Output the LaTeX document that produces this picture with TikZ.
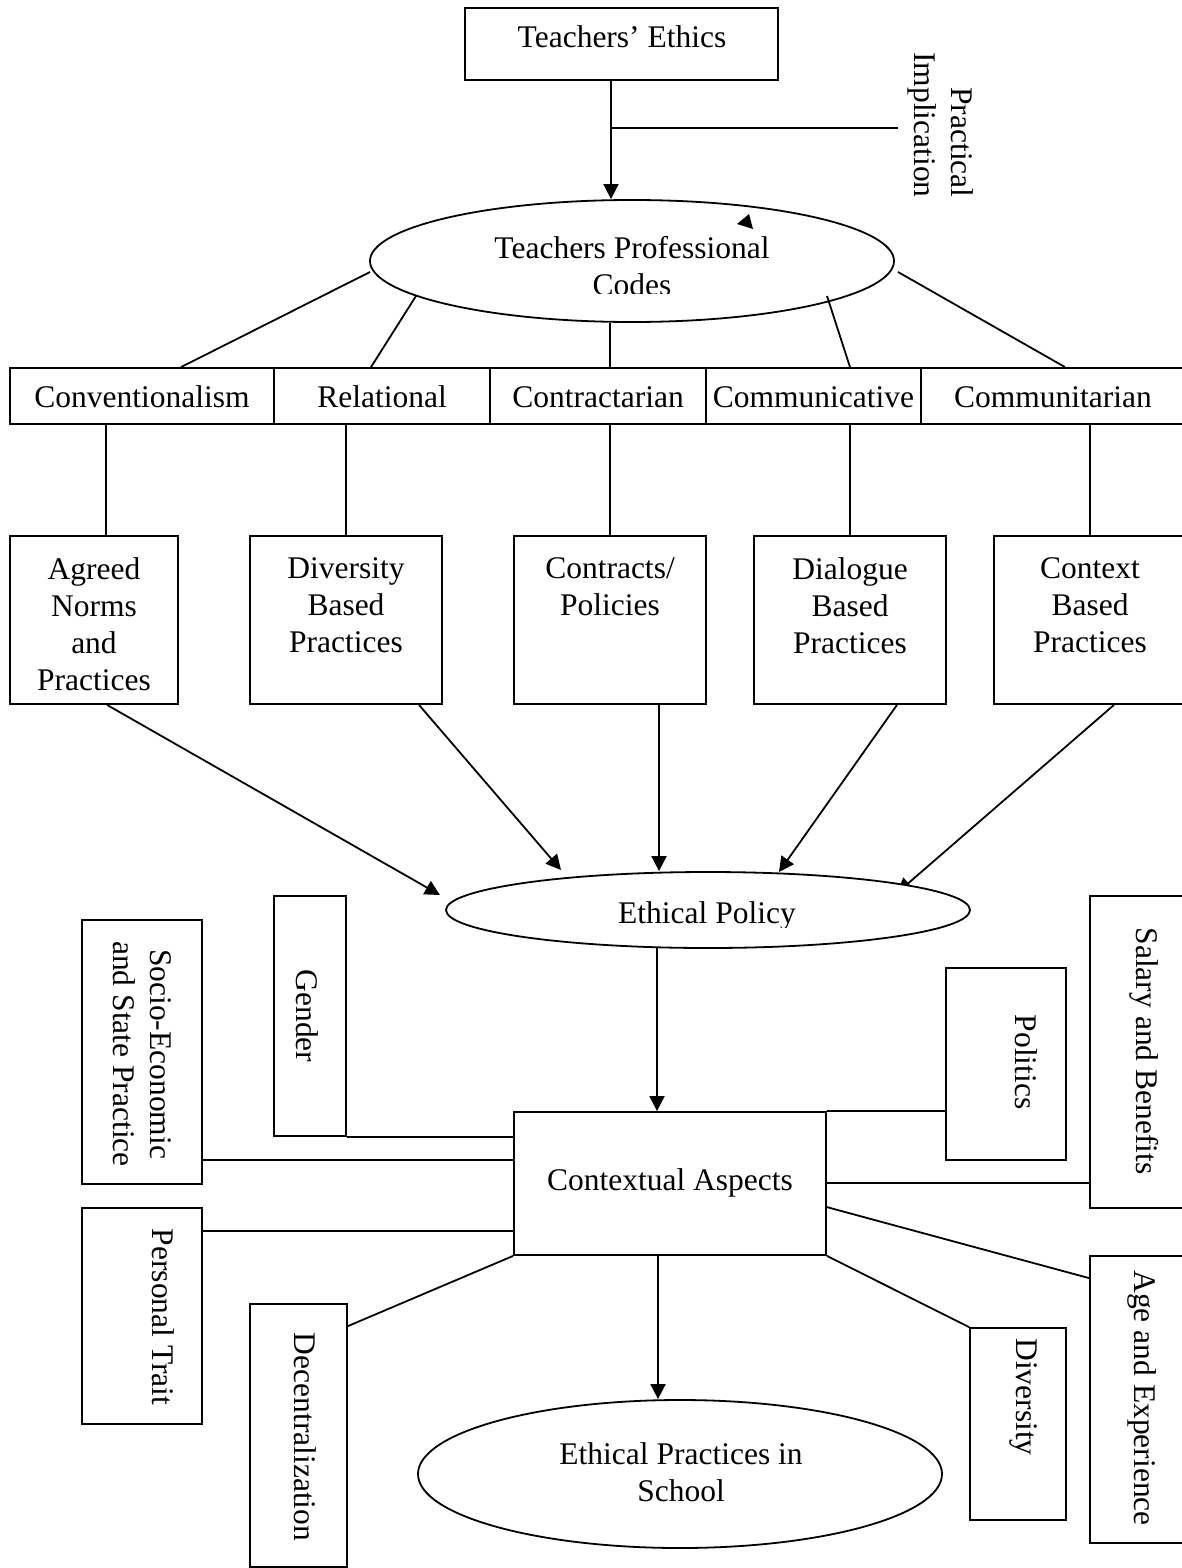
\documentclass[tikz,border=0pt]{standalone}
\usepackage{fontspec}
\setmainfont{Liberation Serif}
\usetikzlibrary{arrows.meta,shapes.geometric,backgrounds}
\begin{document}
\begin{tikzpicture}[x=0.5pt,y=-0.5pt,line width=0.9pt,
  sz/.style 2 args={minimum width=#1*0.5pt,minimum height=#2*0.5pt},
  box/.style={draw,rectangle,inner sep=0pt,line width=0.9pt},
  oval/.style={draw,ellipse,inner sep=0pt,line width=0.9pt},
  txt/.style={inner sep=0pt,font=\fontsize{15.75pt}{18.5pt}\selectfont,align=center},
  vtxt/.style={txt,rotate=-90},
  link/.style={line width=0.9pt},
  arr/.style={link,-{Triangle[length=7.5pt,width=7.5pt]}}]
\useasboundingbox (0,0) rectangle (1182,1568);
\clip (0,0) rectangle (1182,1568);

% ---------- top: ethics and professional codes ----------
\node[box,sz={313}{72}] (ethics) at (621.5,44) {};
\node[txt,anchor=base] (ethicsT) at (622,48) {Teachers’ Ethics};
\node[oval,sz={524}{122}] (codes) at (632,261) {};
\begin{scope}
  \clip (370,200) rectangle (894,293);
  \node[txt,anchor=north] (codesT) at (632,235.5) {Teachers Professional\\Codes};
\end{scope}
\node[vtxt,align=right] (pimpl) at (941,125) {Practical\hspace{2.5pt}\\Implication};
\fill (749,214) -- (737,224) -- (753,229) -- cycle;

% ---------- five approaches ----------
\node[box,sz={264}{56}] (conv) at (142,396) {};
\node[box,sz={216}{56}] (rel) at (382,396) {};
\node[box,sz={216}{56}] (contr) at (598,396) {};
\node[box,sz={215}{56}] (comm) at (813.5,396) {};
\node[box,sz={269}{56}] (commu) at (1055.5,396) {};
\node[txt,anchor=base] (convT) at (142,407) {Conventionalism};
\node[txt,anchor=base] (relT) at (382,407) {Relational};
\node[txt,anchor=base] (contrT) at (598,407) {Contractarian};
\node[txt,anchor=base] (commT) at (813.5,407) {Communicative};
\node[txt,anchor=base] (commuT) at (1053,407) {Communitarian};

% ---------- practices ----------
\node[box,sz={168}{168}] (agreed) at (94,620) {};
\node[box,sz={192}{168}] (divers) at (346,620) {};
\node[box,sz={192}{168}] (contracts) at (610,620) {};
\node[box,sz={192}{168}] (dialogue) at (850,620) {};
\node[box,sz={192}{168}] (context) at (1090,620) {};
\node[txt,anchor=north] (agreedT) at (94,556.5) {Agreed\\Norms\\and\\Practices};
\node[txt,anchor=north] (diversT) at (346,556.5) {Diversity\\Based\\Practices};
\node[txt,anchor=north] (contractsT) at (610,556.5) {Contracts/\\Policies};
\node[txt,anchor=north] (dialogueT) at (850,556.5) {Dialogue\\Based\\Practices};
\node[txt,anchor=north] (contextT) at (1090,556.5) {Context\\Based\\Practices};

% ---------- ethical policy ----------
\node[oval,fill=white,sz={524}{76}] (epol) at (708,910) {};
\begin{scope}
  \clip (446,872) rectangle (970,927);
  \node[txt,anchor=base] (epolT) at (707,923) {Ethical Policy};
\end{scope}

% ---------- contextual aspects and factors ----------
\node[box,sz={312}{143}] (ctx) at (670,1183.5) {};
\node[txt,anchor=base] (ctxT) at (670,1190) {Contextual Aspects};
\node[box,sz={72}{240}] (gender) at (310,1016) {};
\node[box,sz={120}{264}] (socio) at (142,1052) {};
\node[box,sz={120}{216}] (personal) at (142,1316) {};
\node[box,sz={97}{263}] (decent) at (298.5,1435.5) {};
\node[box,sz={120}{192}] (politics) at (1006,1064) {};
\node[box,sz={110}{312}] (salary) at (1145,1052) {};
\node[box,sz={110}{287}] (age) at (1145,1399.5) {};
\node[box,sz={96}{192}] (diversity) at (1018,1424) {};
\node[vtxt,anchor=base] (genderT) at (296,1016) {Gender};
\node[vtxt] (socioT) at (142,1054) {Socio-Economic\\and State Practice};
\node[vtxt,anchor=base] (personalT) at (152,1317) {Personal Trait};
\node[vtxt,anchor=base] (decentT) at (294,1437) {Decentralization};
\node[vtxt,anchor=base] (politicsT) at (1015,1062) {Politics};
\node[vtxt,anchor=base] (salaryT) at (1136,1051) {Salary and Benefits};
\node[vtxt,anchor=base] (ageT) at (1134,1398) {Age and Experience};
\node[vtxt,anchor=base] (diversityT) at (1016,1397) {Diversity};

% ---------- outcome ----------
\node[oval,sz={524}{148}] (prac) at (680,1474) {};
\node[txt,anchor=north] (pracT) at (681,1441.5) {Ethical Practices in\\School};

% ---------- connectors ----------
\coordinate (pjoin) at ([shift={(-10.5,0)}]ethics.south);
\coordinate (pimplend) at (898,128);
\draw[arr] (pjoin) -- (pjoin |- codes.north);
\draw[link] (pjoin |- pimplend) -- (pimplend);

\draw[link] ([shift={(-262,11)}]codes.center) -- ([shift={(39,0)}]conv.north);
\draw[link] ([shift={(-216,35)}]codes.center) -- ([shift={(-11,0)}]rel.north);
\coordinate (cc) at ([shift={(12,0)}]contr.north);
\draw[link] (cc) -- (cc |- codes.south);
\draw[link] ([shift={(195,35)}]codes.center) -- ([shift={(36.5,0)}]comm.north);
\draw[link] ([shift={(266,11)}]codes.center) -- ([shift={(9.5,0)}]commu.north);

\coordinate (v1) at ([shift={(12,0)}]agreed.north);
\draw[link] (v1) -- (v1 |- conv.south);
\draw[link] (divers.north) -- (divers.north |- rel.south);
\draw[link] (contracts.north) -- (contracts.north |- contr.south);
\draw[link] (dialogue.north) -- (dialogue.north |- comm.south);
\draw[link] (context.north) -- (context.north |- commu.south);

\begin{scope}[on background layer]
  \draw[arr] ([shift={(13,0)}]agreed.south) -- ([shift={(-268,-15)}]epol.center);
  \draw[arr] ([shift={(73,0)}]divers.south) -- ([shift={(-147,-40)}]epol.center);
  \coordinate (a3) at ([shift={(49,0)}]contracts.south);
  \draw[arr] (a3) -- (a3 |- epol.north);
  \draw[arr] ([shift={(47,0)}]dialogue.south) -- ([shift={(71,-38)}]epol.center);
  \draw[arr] ([shift={(24,0)}]context.south) -- ([shift={(189,-17)}]epol.center);
\end{scope}

\coordinate (b1) at ([shift={(-51,37)}]epol.center);
\draw[arr] (b1) -- (b1 |- ctx.north);
\coordinate (b2) at ([shift={(-12,0)}]ctx.south);
\draw[arr] (b2) -- (b2 |- prac.north);

\draw[link] (gender.south east) -- (gender.south east -| ctx.west);
\coordinate (s1) at ([shift={(0,108)}]socio.east);
\draw[link] (s1) -- (s1 -| ctx.west);
\coordinate (s2) at ([shift={(0,24)}]personal.north east);
\draw[link] (s2) -- (s2 -| ctx.west);
\draw[link] ([shift={(0,23)}]decent.north east) -- (ctx.south west);
\draw[link] (ctx.north east) -- (ctx.north east -| politics.west);
\coordinate (s3) at ([shift={(0,-0.5)}]ctx.east);
\draw[link] (s3) -- (s3 -| salary.west);
\draw[link] ([shift={(0,96)}]ctx.north east) -- ([shift={(0,23)}]age.north west);
\draw[link] (ctx.south east) -- (diversity.north west);
\end{tikzpicture}
\end{document}
